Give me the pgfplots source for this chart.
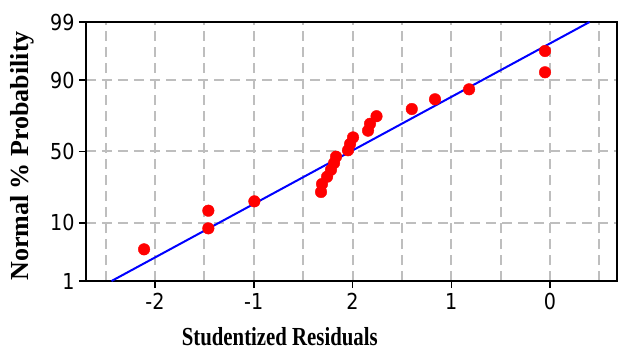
\documentclass[border=0pt]{standalone}
\usepackage{fontspec}
\setmainfont{Liberation Serif}
\newfontfamily\tickfont{DejaVu Sans}[FakeStretch=0.87]
\newfontfamily\xtitlefont{Liberation Serif}[FakeStretch=0.8]
\usepackage{pgfplots}
\pgfplotsset{compat=1.18}
\definecolor{gridgray}{RGB}{190,190,190}
\begin{document}
\begin{tikzpicture}
\begin{axis}[
  scale only axis,
  width=531bp, height=259bp,
  at={(0,0)}, anchor=south west,
  xmin=-2.699, xmax=2.678,
  ymin=-2.326, ymax=2.326,
  xtick={-2,-1,0,1,2},
  xticklabels={-2,-1,2,1,0},
  minor xtick={-2.5,-1.5,-0.5,0.5,1.5,2.5},
  ytick={-2.326,-1.2816,0,1.2816,2.326},
  yticklabels={1,10,50,90,99},
  tick pos=left,
  tick align=outside,
  major tick length=7bp,
  minor tick length=0pt,
  tick style={black, line width=1.5bp},
  xmajorgrids, xminorgrids, ymajorgrids,
  grid style={gridgray, line width=2bp, dash pattern=on 10bp off 6bp},
  minor grid style={gridgray, line width=2bp, dash pattern=on 10bp off 6bp},
  axis line style={black, line width=2bp},
  ticklabel style={font=\tickfont\fontsize{22bp}{22bp}\selectfont},
  xticklabel style={yshift=-2bp},
  yticklabel style={xshift=-1bp},
  xlabel={Studentized Residuals},
  ylabel={Normal \% Probability},
  xlabel style={font=\xtitlefont\bfseries\fontsize{26bp}{26bp}\selectfont, at={(axis description cs:0.365,-0.216)}, anchor=center},
  ylabel style={font=\bfseries\fontsize{26bp}{26bp}\selectfont, at={(axis description cs:-0.1205,0.4826)}, anchor=center},
  clip=true,
]
\addplot[blue, line width=2bp] coordinates {(-2.44,-2.326) (2.40,2.326)};
\addplot[only marks, mark=*, mark size=5.8bp, color=red, mark options={draw=red, fill=red}] coordinates {
(-2.111,-1.757)
(-1.460,-1.380)
(-1.460,-1.063)
(-0.994,-0.895)
(-0.319,-0.727)
(-0.309,-0.584)
(-0.258,-0.453)
(-0.218,-0.329)
(-0.187,-0.208)
(-0.167,-0.093)
(-0.046,0.022)
(-0.025,0.135)
(0.005,0.253)
(0.157,0.374)
(0.177,0.498)
(0.243,0.634)
(0.600,0.763)
(0.835,0.938)
(1.180,1.117)
(1.949,1.423)
(1.949,1.805)
};
\end{axis}
\pgfresetboundingbox
\path[use as bounding box] (-86bp,-69bp) rectangle (534bp,281bp);
\end{tikzpicture}
\end{document}
